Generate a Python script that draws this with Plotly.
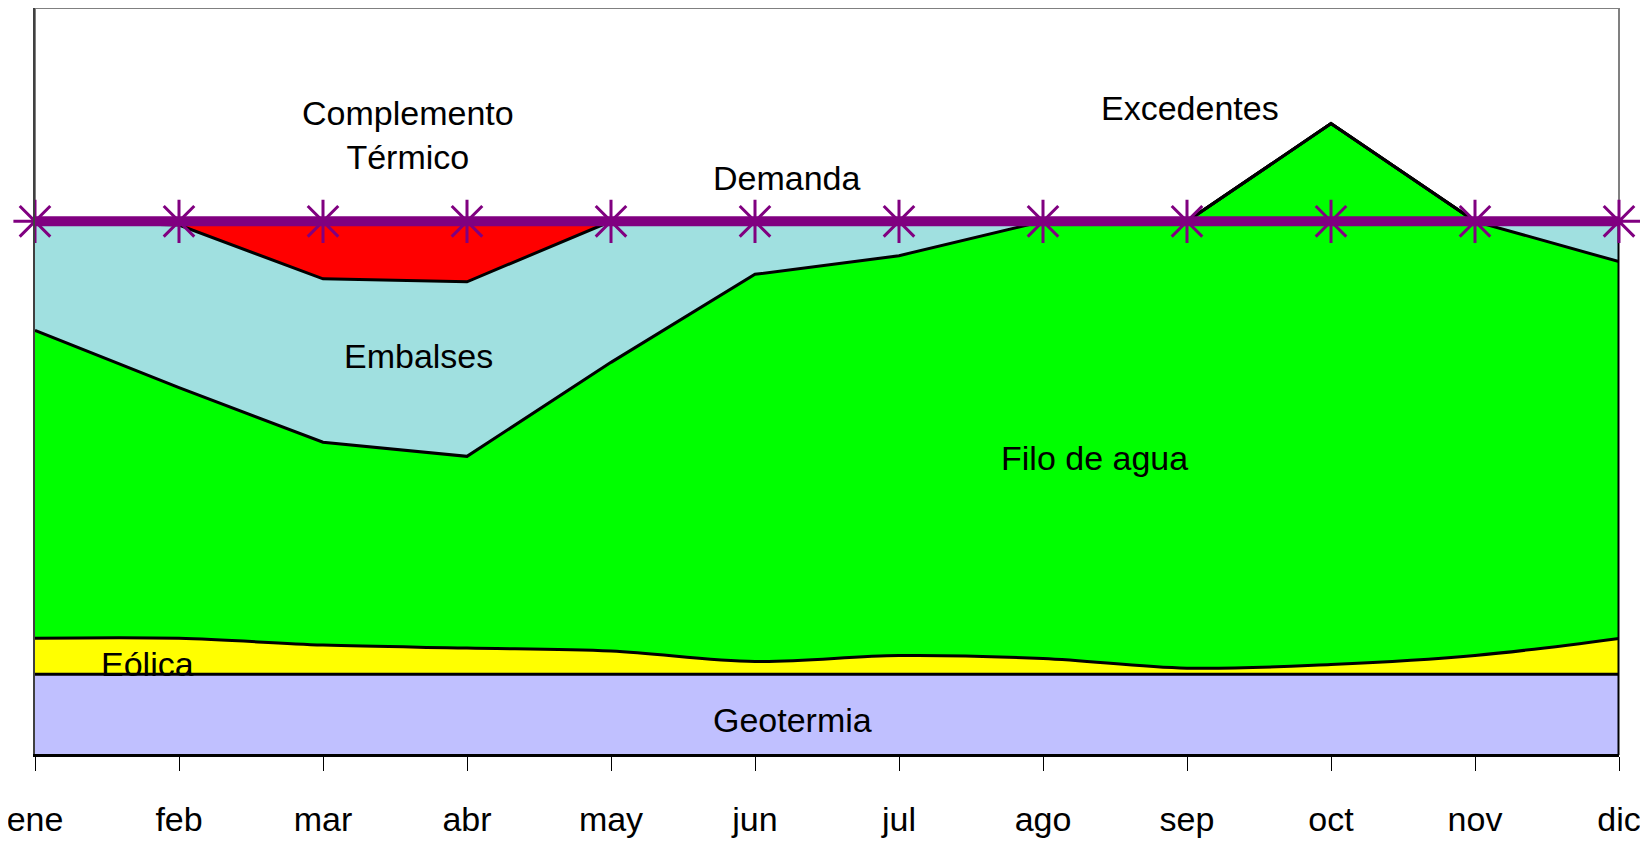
import plotly.graph_objects as go

# ---- Data (arbitrary energy units) ----------------------------------------
meses = ["ene", "feb", "mar", "abr", "may", "jun", "jul", "ago", "sep", "oct", "nov", "dic"]

geotermia = [10.7] * 12
eolica = [4.8, 4.8, 3.9, 3.5, 3.1, 1.7, 2.5, 2.1, 0.8, 1.3, 2.5, 4.8]
filo_de_agua = [41.3, 33.6, 27.2, 25.7, 38.7, 51.9, 53.6, 58.6, 59.9, 72.5, 58.2, 50.5]
embalses = [14.6, 21.8, 21.9, 23.4, 18.9, 7.1, 4.6, 0.0, 0.0, 0.0, 0.0, 5.4]
complemento_termico = [0.0, 0.5, 7.7, 8.1, 0.0, 0.0, 0.0, 0.0, 0.0, 0.0, 0.0, 0.0]
demanda = [71.4] * 12

FONT = "Liberation Sans, Arial, sans-serif"
FSIZE = 34
x = list(range(len(meses)))

fig = go.Figure()

series = [
    ("Geotermia", geotermia, "#C0C0FF", "linear"),
    ("Eólica", eolica, "#FFFF00", "spline"),
    ("Filo de agua", filo_de_agua, "#00FF00", "linear"),
    ("Embalses", embalses, "#A0E0E0", "linear"),
    ("Complemento Térmico", complemento_termico, "#FF0000", "linear"),
]
for name, vals, color, shape in series:
    fig.add_trace(go.Scatter(
        x=x, y=vals, name=name, stackgroup="gen", mode="lines",
        line=dict(color="black", width=3, shape=shape),
        fillcolor=color, hoverinfo="name+y",
    ))

# right-hand closing edge of the stacked areas
total_dic = sum(s[1][-1] for s in series)
fig.add_trace(go.Scatter(
    x=[x[-1], x[-1]], y=[0, total_dic], mode="lines",
    line=dict(color="black", width=3), hoverinfo="skip", showlegend=False,
))

fig.add_trace(go.Scatter(
    x=x, y=demanda, name="Demanda", mode="lines+markers",
    line=dict(color="#800080", width=10),
    marker=dict(symbol="asterisk-open", size=36, color="#800080",
                line=dict(color="#800080", width=3)),
    cliponaxis=False,
))

labels = [
    ("Complemento<br>Térmico", 2.59, 83.0),
    ("Demanda", 5.22, 77.2),
    ("Excedentes", 8.02, 86.6),
    ("Embalses", 2.66, 53.4),
    ("Filo de agua", 7.36, 39.7),
    ("Eólica", 0.78, 12.1),
    ("Geotermia", 5.26, 4.6),
]
for text, ax_, ay_ in labels:
    fig.add_annotation(x=ax_, y=ay_, text=text, showarrow=False,
                       font=dict(family=FONT, size=FSIZE, color="black"))

# gray chart frame
fig.add_shape(type="rect", xref="paper", yref="paper", x0=0, y0=0, x1=1, y1=1,
              line=dict(color="#808080", width=2), layer="below")

# page body adds an 8px offset, so the figure is 8px smaller than the window
fig.update_layout(
    width=1640, height=835,
    margin=dict(l=27, r=29, t=0, b=89, autoexpand=False),
    paper_bgcolor="white", plot_bgcolor="white",
    showlegend=False,
    font=dict(family=FONT, size=FSIZE, color="black"),
    xaxis=dict(
        range=[0, 11], tickvals=x, ticktext=meses,
        showgrid=False, zeroline=False, automargin=False,
        showline=True, linecolor="black", linewidth=3,
        ticks="outside", ticklen=14, tickcolor="black", tickwidth=1,
        ticklabelstandoff=19, ticklabeloverflow="allow",
        tickfont=dict(family=FONT, size=FSIZE),
    ),
    yaxis=dict(
        range=[0, 100], showgrid=False, zeroline=False, automargin=False,
        showticklabels=False, ticks="",
        showline=True, linecolor="#404040", linewidth=2,
    ),
)

fig.write_html("out.html")
